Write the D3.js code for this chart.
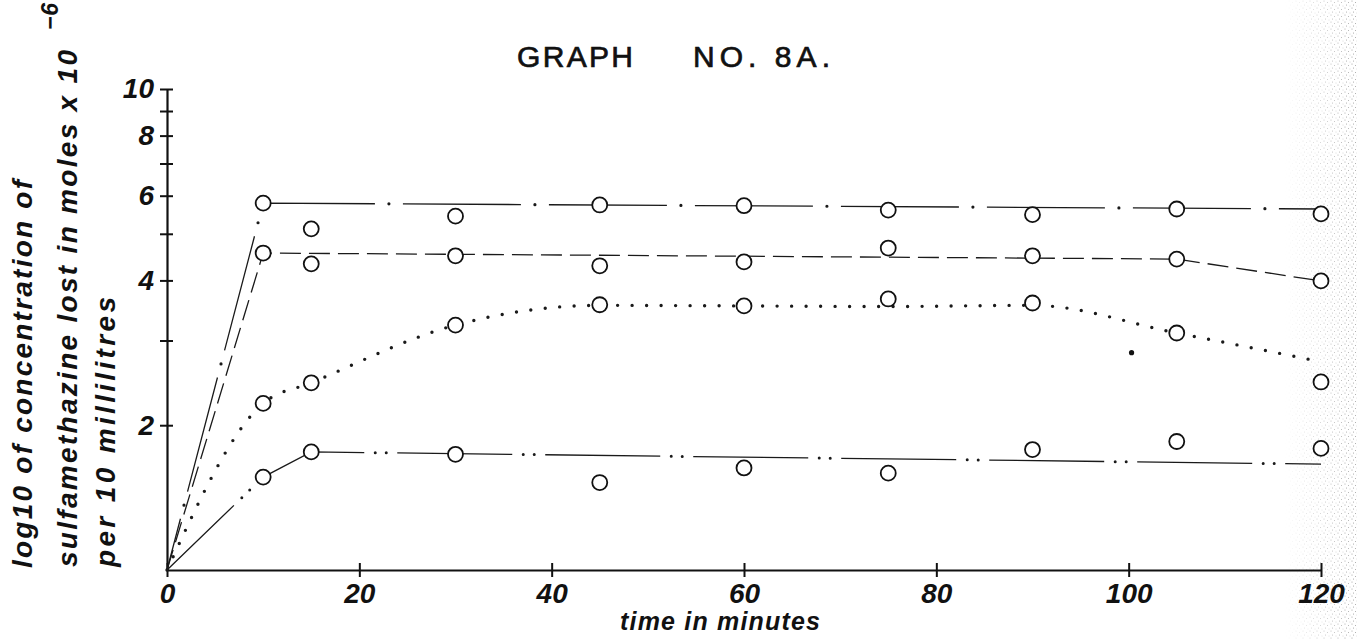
<!DOCTYPE html>
<html><head><meta charset="utf-8">
<script src="https://cdn.jsdelivr.net/npm/d3@7"></script>
<style>
html,body{margin:0;padding:0;background:#fff;}
svg{display:block;}
text{font-family:"Liberation Sans",Arial,sans-serif;fill:#111;}
</style></head><body>
<svg id="chart" width="1357" height="639"></svg>
<script>
// Sampling times (minutes)
const times = [10, 15, 30, 45, 60, 75, 90, 105, 120];

// Measured concentration (moles x 10^-6 per 10 ml), one array per run
const seriesA = [5.79, 5.12, 5.44, 5.74, 5.72, 5.60, 5.48, 5.63, 5.50];
const seriesB = [4.56, 4.33, 4.50, 4.29, 4.37, 4.67, 4.50, 4.43, 3.99];
const seriesC = [2.22, 2.45, 3.23, 3.56, 3.54, 3.66, 3.59, 3.11, 2.46];
const seriesD = [1.56, 1.76, 1.74, 1.52, 1.63, 1.59, 1.78, 1.85, 1.79];

// Hand-drawn curves through each run: [time, concentration]
const curveA = [[0, 1], [10, 5.79], [120, 5.63]];
const curveB = [[0, 1], [10, 4.56], [105, 4.43], [120, 3.99]];
const curveC = [[0, 1], [10, 2.22], [15, 2.45], [30, 3.23], [45, 3.55], [60, 3.54], [75, 3.53], [90, 3.55], [105, 3.11], [120, 2.71]];
const curveD = [[0, 1], [10, 1.56], [15, 1.76], [120, 1.66]];

// A lone plotted dot
const strayDots = [[100.3, 2.83]];

// Axis ticks
const xTicks = [0, 20, 40, 60, 80, 100, 120];
const yTicks = [2, 3, 4, 5, 6, 7, 8, 9, 10];
const yTickLabels = {2: "2", 4: "4", 6: "6", 8: "8", 10: "10"};

const FONT = "Liberation Sans, Arial, sans-serif";
const svg = d3.select("#chart");

const x = d3.scaleLinear().domain([0, 120]).range([167, 1321]);
const y = d3.scaleLog().domain([1, 10]).range([570, 89]);

// Scan grain along the right edge of the sheet
const defs = svg.append("defs");
const pat = defs.append("pattern").attr("id", "grain")
  .attr("width", 7).attr("height", 7).attr("patternUnits", "userSpaceOnUse");
[[1, 1, 0.6], [4.5, 2.5, 0.5], [2.5, 5, 0.55], [6, 6, 0.45]].forEach(p =>
  pat.append("circle").attr("cx", p[0]).attr("cy", p[1]).attr("r", p[2]).attr("fill", "#8a8a8a"));
const grad = defs.append("linearGradient").attr("id", "grainFade")
  .attr("x1", 0).attr("x2", 1).attr("y1", 0).attr("y2", 0);
grad.append("stop").attr("offset", "0%").attr("stop-color", "#fff").attr("stop-opacity", 0);
grad.append("stop").attr("offset", "100%").attr("stop-color", "#fff").attr("stop-opacity", 0.9);
defs.append("mask").attr("id", "grainMask")
  .append("rect").attr("x", 1285).attr("y", 0).attr("width", 72).attr("height", 639).attr("fill", "url(#grainFade)");
svg.append("rect").attr("x", 1285).attr("y", 0).attr("width", 72).attr("height", 639)
  .attr("fill", "url(#grain)").attr("mask", "url(#grainMask)");

// Axes
const yAxis = svg.append("g").attr("transform", `translate(${x(0)},0)`)
  .call(d3.axisLeft(y).tickValues(yTicks).tickFormat(d => yTickLabels[d] || "")
    .tickSize(7).tickSizeOuter(0).tickPadding(6));
yAxis.select(".domain").attr("stroke", "#111").attr("stroke-width", 2.2);
yAxis.selectAll(".tick line").attr("x1", 6).attr("stroke", "#111").attr("stroke-width", 2);
yAxis.selectAll(".tick text").attr("font-size", 28).attr("font-style", "italic").attr("font-weight", "bold")
  .attr("font-family", FONT).attr("fill", "#111");

const xAxis = svg.append("g").attr("transform", `translate(0,${y(1)})`)
  .call(d3.axisBottom(x).tickValues(xTicks).tickFormat(d3.format("d"))
    .tickSize(7).tickSizeOuter(0).tickPadding(6));
xAxis.select(".domain").attr("stroke", "#111").attr("stroke-width", 2.2);
xAxis.selectAll(".tick line").attr("y1", -7).attr("stroke", "#111").attr("stroke-width", 2);
xAxis.selectAll(".tick text").attr("font-size", 28).attr("font-style", "italic").attr("font-weight", "bold")
  .attr("font-family", FONT).attr("fill", "#111");

// Curves
const line = d3.line().x(d => x(d[0])).y(d => y(d[1]));
const smooth = d3.line().x(d => x(d[0])).y(d => y(d[1])).curve(d3.curveMonotoneX);
const g = svg.append("g").attr("fill", "none").attr("stroke", "#1a1a1a");

// run A: long dash and dot
g.append("path").attr("d", line(curveA)).attr("stroke-width", 1.3)
  .attr("stroke-dasharray", "118,28").attr("stroke-dashoffset", 65);
g.append("path").attr("d", line(curveA)).attr("stroke-width", 3.2).attr("stroke-linecap", "round")
  .attr("stroke-dasharray", "0,146").attr("stroke-dashoffset", 79);

// run B: dashed
g.append("path").attr("d", line(curveB)).attr("stroke-width", 1.3)
  .attr("stroke-dasharray", "21,8");

// run C: dotted
g.append("path").attr("d", smooth(curveC)).attr("stroke-width", 3.4).attr("stroke-linecap", "round")
  .attr("stroke-dasharray", "0,14.5");

// run D: long dash and two dots
g.append("path").attr("d", line(curveD)).attr("stroke-width", 1.3)
  .attr("stroke-dasharray", "115,33").attr("stroke-dashoffset", 22);
g.append("path").attr("d", line(curveD)).attr("stroke-width", 3).attr("stroke-linecap", "round")
  .attr("stroke-dasharray", "0,11,0,137").attr("stroke-dashoffset", 44);

svg.append("g").selectAll("circle").data(strayDots).join("circle")
  .attr("cx", d => x(d[0])).attr("cy", d => y(d[1])).attr("r", 2.6).attr("fill", "#111");

// Observed points as open circles
[seriesA, seriesB, seriesC, seriesD].forEach(s => {
  svg.append("g").selectAll("circle").data(s).join("circle")
    .attr("cx", (d, i) => x(times[i])).attr("cy", d => y(d))
    .attr("r", 7.5).attr("fill", "#fff").attr("stroke", "#111").attr("stroke-width", 1.8);
});

// Title
const title = svg.append("g").attr("font-size", 30).attr("stroke", "#111").attr("stroke-width", 0.7);
title.append("text").attr("x", 517).attr("y", 67)
  .attr("textLength", 116).attr("lengthAdjust", "spacing").text("GRAPH");
title.append("text").attr("x", 693).attr("y", 67)
  .attr("textLength", 137).attr("lengthAdjust", "spacing").text("NO. 8A.");

// Axis titles
svg.append("text").attr("x", 620).attr("y", 630).attr("font-size", 25)
  .attr("font-style", "italic").attr("font-weight", "bold")
  .attr("textLength", 200).attr("lengthAdjust", "spacing").text("time in minutes");

const yl = svg.append("g").attr("transform", "rotate(-90)")
  .attr("font-style", "italic").attr("font-weight", "bold");
yl.append("text").attr("x", -568).attr("y", 32).attr("font-size", 28)
  .attr("textLength", 388).attr("lengthAdjust", "spacing").text("log10 of concentration of");
yl.append("text").attr("x", -567).attr("y", 77).attr("font-size", 28)
  .attr("textLength", 517).attr("lengthAdjust", "spacing").text("sulfamethazine lost in moles x 10");
yl.append("text").attr("x", -30).attr("y", 58).attr("font-size", 23)
  .attr("textLength", 27).attr("lengthAdjust", "spacing").text("\u22126");
yl.append("text").attr("x", -567).attr("y", 115).attr("font-size", 28)
  .attr("textLength", 270).attr("lengthAdjust", "spacing").text("per 10 millilitres");
</script>
</body></html>
